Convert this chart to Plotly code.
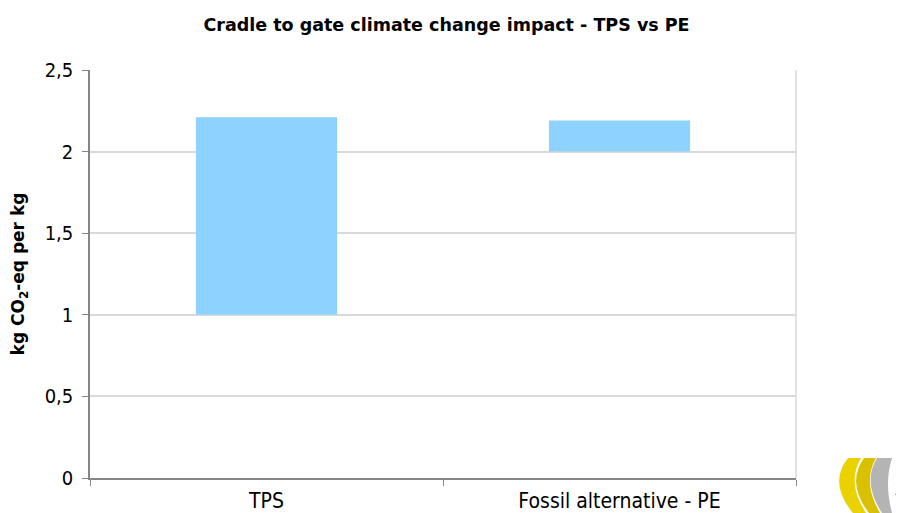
import plotly.graph_objects as go

categories = ["TPS", "Fossil alternative - PE"]
bar_low = [1.0, 2.0]
bar_high = [2.21, 2.19]
y_ticks = [0, 0.5, 1, 1.5, 2, 2.5]
y_tick_labels = ["0", "0,5", "1", "1,5", "2", "2,5"]

heights = [h - l for h, l in zip(bar_high, bar_low)]

FONT = "DejaVu Sans Condensed, DejaVu Sans, sans-serif"
TFONT = "DejaVu Sans, Verdana, sans-serif"
OFF = 8  # page body offset
W, H = 904 - OFF, 513 - OFF
L, R, T, B = 82, 108, 62, 35

fig = go.Figure()
fig.add_trace(go.Bar(
    x=categories, y=heights, base=bar_low,
    marker=dict(color="#8ED2FF", line=dict(width=0)),
    width=0.4, hoverinfo="skip",
))

fig.update_layout(
    width=W, height=H,
    margin=dict(l=L, r=R, t=T, b=B, autoexpand=False),
    paper_bgcolor="white", plot_bgcolor="white",
    showlegend=False,
    font=dict(family=FONT, size=20, color="black"),
    title=dict(text="<b>Cradle to gate climate change impact - TPS vs PE</b>",
               x=(446.5 - OFF) / W, xanchor="center", xref="container",
               y=1 - (25 - OFF) / H, yanchor="middle", yref="container",
               font=dict(size=17.5, family=TFONT)),
    xaxis=dict(
        type="category", showgrid=False, showline=True, linecolor="#868686", linewidth=1.5,
        ticks="outside", tickson="boundaries", ticklen=6, tickcolor="#868686",
        tickfont=dict(size=21, family=FONT), automargin=False, ticklabelstandoff=3,
    ),
    yaxis=dict(
        range=[0, 2.5], tickvals=y_ticks, ticktext=y_tick_labels,
        showgrid=True, gridcolor="#D9D9D9", gridwidth=1.5,
        showline=True, linecolor="#868686", linewidth=1.5,
        ticks="outside", ticklen=6, tickcolor="#868686",
        tickfont=dict(size=20, family=FONT), zeroline=False, automargin=False,
        ticklabelstandoff=5,
        title=dict(text="<b>kg CO<sub>2</sub>-eq per kg</b>", font=dict(size=17, family=TFONT), standoff=16),
    ),
)

# right border of plot area
fig.add_shape(type="line", xref="paper", yref="paper", x0=1, x1=1, y0=0, y1=1,
              line=dict(color="#D9D9D9", width=1.5))

# small logo approximation (bottom right), drawn in screen pixels converted to paper
pw, ph = W - L - R, H - T - B
def px(x):
    return (x - OFF - L) / pw
def py(y):
    return (H - B - (y - OFF)) / ph
def path(pts):
    out = []
    for cmd, coords in pts:
        s = " ".join(f"{px(coords[i]):.4f},{py(coords[i+1]):.4f}" for i in range(0, len(coords), 2))
        out.append(f"{cmd} {s}")
    return " ".join(out) + " Z"

logo = [
    ([("M", [848, 458]), ("L", [861, 458]), ("Q", [846, 483, 866, 513]), ("L", [853, 513]), ("Q", [828, 483, 848, 458])], "#E9D200"),
    ([("M", [864, 458]), ("L", [876, 458]), ("Q", [862, 483, 880, 513]), ("L", [869, 513]), ("Q", [846, 483, 864, 458])], "#D9C000"),
    ([("M", [877, 458]), ("L", [892, 458]), ("Q", [884, 483, 892, 513]), ("L", [882, 513]), ("Q", [862, 483, 877, 458])], "#B4B4B4"),
    ([("M", [895, 495]), ("L", [904, 477]), ("L", [904, 495])], "#1BA3E0"),
]
for pts, col in logo:
    fig.add_shape(type="path", xref="paper", yref="paper", path=path(pts),
                  fillcolor=col, line=dict(width=0), layer="above")

fig.write_html("out.html")
